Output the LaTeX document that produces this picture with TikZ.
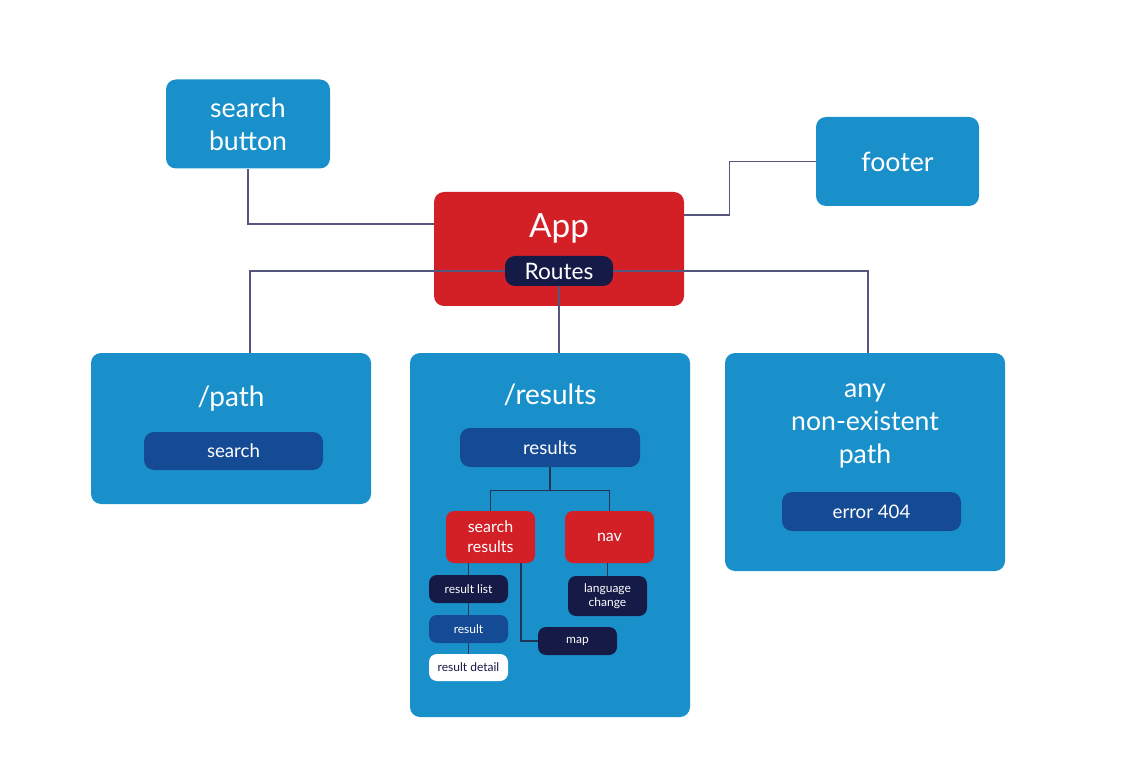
\documentclass[tikz,border=0pt]{standalone}
\usepackage{fontspec}
\setmainfont{Lato}
\usetikzlibrary{positioning,calc}
\definecolor{boxblue}{HTML}{1A90CB}
\definecolor{appred}{HTML}{D32027}
\definecolor{navy}{HTML}{161A47}
\definecolor{pillblue}{HTML}{154B94}
\definecolor{linegray}{HTML}{55577E}
\definecolor{linedark}{HTML}{1F3558}
\tikzset{
  base/.style={rounded corners=7.5pt, text=white, align=center, inner sep=0pt},
  bigbox/.style={base, fill=boxblue},
  redbox/.style={base, fill=appred},
  navybox/.style={base, fill=navy},
  pillbox/.style={base, fill=pillblue},
  whitebox/.style={base, fill=white, text=navy},
  conn/.style={draw=linegray, line width=1.1pt},
  iconn/.style={draw=linedark, line width=1pt},
  txt/.style={text=white, align=center, inner sep=0pt},
}
\begin{document}
\begin{tikzpicture}[x=0.75pt, y=-0.75pt]
\useasboundingbox (0,0) rectangle (1142,784);
% top-level boxes
\node[bigbox, minimum width=123pt, minimum height=66.75pt, font=\fontsize{20}{24.75}\selectfont] (sb) at (248,124) {search\\button};
\node[bigbox, minimum width=122.25pt, minimum height=66.75pt, font=\fontsize{20}{24}\selectfont] (footer) at (897.5,161.5) {footer};
\node[redbox, minimum width=187.5pt, minimum height=85.5pt] (app) at (559,249) {};
\node[txt, font=\fontsize{25}{28}\selectfont] (applbl) at (559,228) {App};
% route boxes
\node[bigbox, minimum width=210pt, minimum height=113.25pt] (path) at (231,428.5) {};
\node[bigbox, minimum width=210pt, minimum height=273pt] (results) at (550,535) {};
\node[bigbox, minimum width=210pt, minimum height=163.5pt] (any) at (865,462) {};
% connectors top
\draw[conn] (sb.south) |- ([yshift=18.75pt]app.west);
\draw[conn] ([yshift=25.5pt]app.east) -- ++(45,0) |- (footer.west);
\node[navybox, minimum width=81pt, minimum height=22.5pt, font=\fontsize{17}{20}\selectfont] (routes) at (559,271) {Routes};
\draw[conn] (routes.west) -| ([xshift=14.25pt]path.north);
\draw[conn] (routes.east) -| ([xshift=2.25pt]any.north);
\draw[conn] (routes.south) -- (routes.south |- results.north);
% titles
\node[txt, font=\fontsize{21}{24}\selectfont] (pathlbl) at (231,399) {/path};
\node[txt, font=\fontsize{21}{24}\selectfont] (reslbl) at (550,395) {/results};
\node[txt, font=\fontsize{20}{24.75}\selectfont] (anylbl) at (865,426) {any\\non-existent\\path};
% pills
\node[pillbox, minimum width=134.25pt, minimum height=28.5pt, font=\fontsize{14}{16}\selectfont] (search) at (233.5,451) {search};
\node[pillbox, minimum width=134.25pt, minimum height=29.25pt, font=\fontsize{14}{16}\selectfont] (err) at (871.5,511.5) {error 404};
\node[pillbox, minimum width=135pt, minimum height=29.25pt, font=\fontsize{14}{16}\selectfont] (rpill) at (550,447.5) {results};
% inner tree
\node[redbox, rounded corners=6pt, minimum width=66.75pt, minimum height=39pt, font=\fontsize{12}{15}\selectfont] (sr) at (490.5,537) {search\\results};
\node[redbox, rounded corners=6pt, minimum width=66.75pt, minimum height=39pt, font=\fontsize{12}{15}\selectfont] (nav) at (609.5,537) {nav};
\node[navybox, rounded corners=6pt, minimum width=59.25pt, minimum height=21pt, font=\fontsize{9}{10}\selectfont] (rl) at (468.5,589) {result list};
\node[pillbox, rounded corners=6pt, minimum width=59.25pt, minimum height=21pt, font=\fontsize{9}{10}\selectfont] (res) at (468.5,629) {result};
\node[whitebox, rounded corners=6pt, minimum width=59.25pt, minimum height=20.25pt, font=\fontsize{9}{10}\selectfont] (rd) at (468.5,667.5) {result detail};
\node[navybox, rounded corners=6pt, minimum width=59.25pt, minimum height=21pt, font=\fontsize{9}{10}\selectfont] (map) at (577.5,641) {map};
\node[navybox, rounded corners=6pt, minimum width=59.25pt, minimum height=30pt, font=\fontsize{9}{10.5}\selectfont] (lc) at (607.5,596) {language\\change};
\draw[iconn] (rpill.south) -- ++(0,23) coordinate (split);
\draw[iconn] (sr.north) |- (split) -| (nav.north);
\draw[iconn] (rl.north) -- (rl.north |- sr.south);
\draw[iconn] (rl.south) -- (res.north);
\draw[iconn] (res.south) -- (rd.north);
\draw[iconn] ([xshift=22.9pt]sr.south) |- (map.west);
\draw[iconn] (lc.north) -- (lc.north |- nav.south);
\end{tikzpicture}
\end{document}
